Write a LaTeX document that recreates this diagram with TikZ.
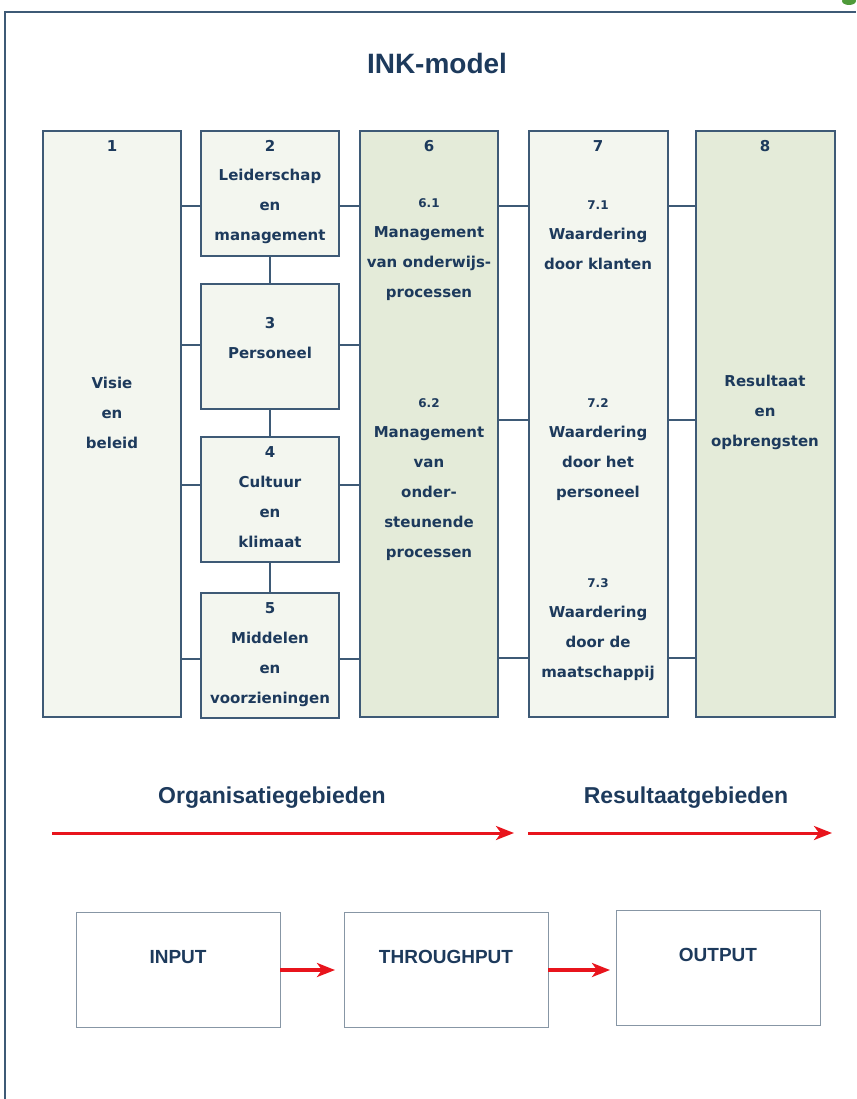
\documentclass[tikz,border=0pt]{standalone}
\usepackage{fontspec}
\setmainfont{Liberation Sans}
\newfontfamily\boxfont{DejaVu Sans}
\usetikzlibrary{arrows.meta, positioning}

\definecolor{inkblue}{HTML}{1D3A5C}
\definecolor{inkline}{HTML}{3E5A76}
\definecolor{inklight}{HTML}{F3F6EF}
\definecolor{inkgreen}{HTML}{E4EBD9}
\definecolor{inkred}{HTML}{E8141C}
\definecolor{iogray}{HTML}{8796A5}
\definecolor{blobgreen}{HTML}{4F9A3A}

\newcommand{\subnum}[1]{{\fontsize{12}{30}\selectfont #1}}

\begin{document}
\begin{tikzpicture}[x=1pt, y=-1pt,
    box/.style={draw=inkline, line width=1.6pt, anchor=north west, inner sep=0pt, outer sep=0pt},
    lightbox/.style={box, fill=inklight},
    shadedbox/.style={box, fill=inkgreen},
    txt/.style={text=inkblue, font=\boxfont\bfseries\fontsize{15}{30}\selectfont, align=center},
    link/.style={draw=inkline, line width=1.3pt},
    redarrow/.style={draw=inkred, line width=3pt, -{Stealth[length=18pt, width=14pt, inset=5pt]}},
    iobox/.style={draw=iogray, line width=1pt, minimum width=204pt, minimum height=115pt, inner sep=0pt, outer sep=0pt},
    iotxt/.style={text=inkblue, font=\bfseries\fontsize{19}{23}\selectfont},
    headtxt/.style={text=inkblue, font=\bfseries\fontsize{23}{28}\selectfont},
  ]
    \useasboundingbox (0,0) rectangle (856,1099);

    % Draw frame and title
    \draw[inkline, line width=2pt] (5,1099) -- (5,12) -- (856,12);
    \fill[blobgreen] (849,1) ellipse (7pt and 4pt);
    \node[text=inkblue, font=\bfseries\fontsize{28}{34}\selectfont] (title) at (437,63) {INK-model};

    % Draw the eight fields
    \node[lightbox, minimum width=138pt, minimum height=586pt] (b1) at (43,131) {};
    \node[lightbox, minimum width=138pt, minimum height=125pt] (b2) at (201,131) {};
    \node[lightbox, minimum width=138pt, minimum height=125pt] (b3) at (201,284) {};
    \node[lightbox, minimum width=138pt, minimum height=125pt] (b4) at (201,437) {};
    \node[lightbox, minimum width=138pt, minimum height=125pt] (b5) at (201,593) {};
    \node[shadedbox, minimum width=138pt, minimum height=586pt] (b6) at (360,131) {};
    \node[lightbox, minimum width=139pt, minimum height=586pt] (b7) at (529,131) {};
    \node[shadedbox, minimum width=139pt, minimum height=586pt] (b8) at (696,131) {};

    % Draw links between the fields
    \coordinate (r1) at (0,206);
    \coordinate (r2) at (0,345);
    \coordinate (r3) at (0,485);
    \coordinate (r4) at (0,659);
    \coordinate (s1) at (0,206);
    \coordinate (s2) at (0,420);
    \coordinate (s3) at (0,658);
    \foreach \r/\b in {r1/b2, r2/b3, r3/b4, r4/b5} {
      \draw[link] (b1.east |- \r) -- (\b.west |- \r);
      \draw[link] (\b.east |- \r) -- (b6.west |- \r);
    }
    \foreach \s in {s1, s2, s3} {
      \draw[link] (b6.east |- \s) -- (b7.west |- \s);
      \draw[link] (b7.east |- \s) -- (b8.west |- \s);
    }
    \draw[link] (b2) -- (b3);
    \draw[link] (b3) -- (b4);
    \draw[link] (b4) -- (b5);

    % Label the fields
    \node[txt] (n1) at (112,146) {1};
    \node[txt] (t1) at (112,413) {Visie\\en\\beleid};
    \node[txt] (n2) at (270,146) {2};
    \node[txt] (t2) at (270,206) {Leiderschap\\en\\management};
    \node[txt] (n3) at (270,323) {3};
    \node[txt] (t3) at (270,353) {Personeel};
    \node[txt] (n4) at (270,452) {4};
    \node[txt] (t4) at (270,512) {Cultuur\\en\\klimaat};
    \node[txt] (n5) at (270,608) {5};
    \node[txt] (t5) at (270,669) {Middelen\\en\\voorzieningen};
    \node[txt] (n6) at (429,146) {6};
    \node[txt] (t61) at (429,250) {\subnum{6.1}\\Management\\van onderwijs-\\processen};
    \node[txt] (t62) at (429,480) {\subnum{6.2}\\Management\\van\\onder-\\steunende\\processen};
    \node[txt] (n7) at (598,146) {7};
    \node[txt] (t71) at (598,235) {\subnum{7.1}\\Waardering\\door klanten};
    \node[txt] (t72) at (598,450) {\subnum{7.2}\\Waardering\\door het\\personeel};
    \node[txt] (t73) at (598,630) {\subnum{7.3}\\Waardering\\door de\\maatschappij};
    \node[txt] (n8) at (765,146) {8};
    \node[txt] (t8) at (765,412) {Resultaat\\en\\opbrengsten};

    % Draw the two areas
    \node[headtxt] (org) at (272,798) {Organisatiegebieden};
    \node[headtxt] (res) at (686,798) {Resultaatgebieden};
    \coordinate (o1) at (52,833);
    \coordinate (o2) at (514,833);
    \coordinate (o3) at (528,833);
    \coordinate (o4) at (832,833);
    \draw[redarrow] (o1) -- (o2);
    \draw[redarrow] (o3) -- (o4);

    % Draw input, throughput and output
    \node[iobox] (in) at (178,970) {};
    \node[iobox] (tp) at (446,970) {};
    \node[iobox] (out) at (718,968) {};
    \node[iotxt] (tin) at (178,957) {INPUT};
    \node[iotxt] (ttp) at (446,957) {THROUGHPUT};
    \node[iotxt] (tout) at (718,955) {OUTPUT};
    \draw[redarrow, line width=3.4pt] (in.east) -- ([xshift=-9pt]tp.west);
    \draw[redarrow, line width=3.4pt] (tp.east) -- ([xshift=-6pt]out.west |- tp.east);
\end{tikzpicture}
\end{document}
